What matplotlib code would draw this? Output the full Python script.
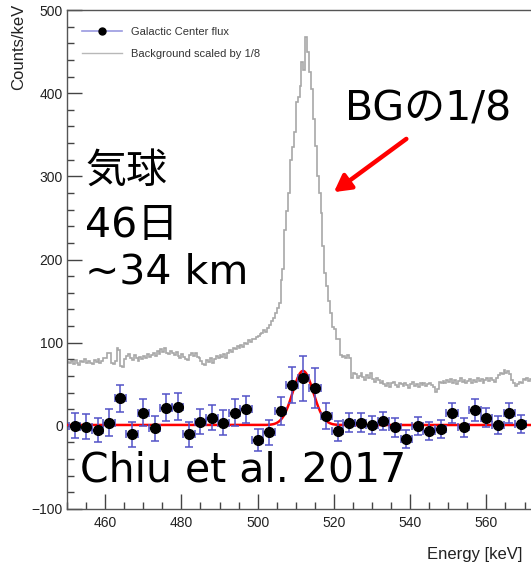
import numpy as np
import matplotlib
matplotlib.use("Agg")
import matplotlib.pyplot as plt
from matplotlib.lines import Line2D
from matplotlib.ticker import MultipleLocator

plt.rcParams["font.family"] = ["Liberation Sans", "DejaVu Sans"]

# Galactic Center flux: 3 keV bins (bin centres, counts/keV, 1-sigma errors)
gc_energy = [452, 455, 458, 461, 464, 467, 470, 473, 476, 479,
             482, 485, 488, 491, 494, 497, 500, 503, 506, 509,
             512, 515, 518, 521, 524, 527, 530, 533, 536, 539,
             542, 545, 548, 551, 554, 557, 560, 563, 566, 569]
gc_flux = [0, -1, -5, 4, 33, -10, 16, -3, 22, 23,
           -10, 5, 10, 4, 16, 20, -17, -8, 18, 49,
           57, 45, 12, -6, 4, 4, 1, 6, -2, -16,
           0, -6, -4, 15, -2, 19, 10, 1, 15, 2]
gc_err = [15, 15, 15, 16, 16, 15, 16, 15, 16, 16,
          15, 15, 15, 15, 16, 16, 13, 15, 17, 22,
          27, 24, 16, 12, 12, 11, 11, 11, 11, 11,
          11, 11, 11, 12, 11, 13, 12, 11, 12, 11]
gc_bin_half = 1.5

# Gaussian + constant fit to the flux
fit_amp = 65.0
fit_mean = 511.9
fit_sigma = 2.7
fit_const = 1.0

# Background spectrum scaled by 1/8: 0.5 keV bins starting at 450 keV
bg_start = 450.0
bg_width = 0.5
bg_counts = [
    77, 75, 78, 74, 79, 76, 73, 78, 77, 80,
    75, 78, 76, 74, 79, 77, 80, 76, 78, 82,
    82, 88, 87, 76, 74, 78, 94, 91, 72, 71,
    80, 84, 86, 81, 79, 85, 82, 78, 83, 80,
    84, 82, 86, 83, 85, 88, 84, 90, 86, 92,
    89, 93, 88, 86, 90, 87, 85, 89, 84, 82,
    86, 83, 80, 79, 85, 88, 84, 87, 83, 81,
    78, 74, 73, 79, 77, 81, 76, 80, 84, 82,
    85, 83, 86, 82, 88, 91, 89, 94, 92, 96,
    93, 97, 95, 100, 98, 103, 101, 105, 104, 107,
    108, 110, 112, 115, 113, 118, 121, 126, 130, 136,
    142, 148, 175, 188, 236, 258, 280, 320, 335, 353,
    389, 395, 409, 438, 428, 467, 450, 425, 405, 369,
    336, 300, 280, 256, 216, 184, 168, 150, 136, 119,
    116, 104, 104, 85, 83, 84, 82, 85, 81, 58,
    64, 62, 57, 60, 63, 59, 55, 61, 58, 63,
    56, 53, 57, 55, 52, 54, 50, 48, 52, 47,
    51, 53, 49, 47, 52, 50, 48, 51, 49, 46,
    50, 53, 48, 50, 47, 52, 49, 51, 48, 50,
    52, 49, 47, 41, 44, 53, 51, 54, 52, 55,
    53, 56, 52, 55, 50, 54, 57, 53, 55, 51,
    54, 56, 52, 55, 53, 57, 54, 56, 52, 55,
    57, 54, 58, 55, 53, 58, 61, 64, 62, 67,
    63, 66, 62, 55, 51, 48, 50, 53, 52, 56,
    55, 57, 54, 56,
]

W, H = 531, 565
fig = plt.figure(figsize=(W / 100, H / 100), dpi=100)
ax = fig.add_axes([67 / W, 56 / H, 1 - 67 / W, 499 / H])

# background histogram
bg_edges = bg_start + bg_width * np.arange(len(bg_counts) + 1)
ax.stairs(bg_counts, bg_edges, baseline=None, color="#a8a8a8", lw=1.2)

# fit curve
xf = np.linspace(450, 572, 800)
yf = fit_const + fit_amp * np.exp(-0.5 * ((xf - fit_mean) / fit_sigma) ** 2)
ax.plot(xf, yf, color="#ff0000", lw=1.8, zorder=3)

# flux points
ax.errorbar(gc_energy, gc_flux, yerr=gc_err, xerr=gc_bin_half, fmt="o",
            ms=7, mfc="black", mec="black", ecolor="#5252c8",
            elinewidth=1.1, capsize=2.8, capthick=1.1, zorder=4)

ax.set_xlim(450, 571.7)
ax.set_ylim(-100, 500)
ax.xaxis.set_major_locator(MultipleLocator(20))
ax.xaxis.set_minor_locator(MultipleLocator(5))
ax.yaxis.set_major_locator(MultipleLocator(100))
ax.yaxis.set_minor_locator(MultipleLocator(20))
ax.tick_params(which="both", direction="in", color="#444444", width=1,
               labelsize=10, labelcolor="#222222")
ax.tick_params(which="major", length=10.8)
ax.tick_params(which="minor", length=5.2)
ax.tick_params(axis="x", which="major", pad=5)
ax.tick_params(axis="y", which="major", pad=3)
for side in ("left", "bottom", "top"):
    ax.spines[side].set_color("#555555")
    ax.spines[side].set_linewidth(1.0)
ax.spines["right"].set_visible(False)

fig.text(19 / W, 1 - 4 / H, "Counts/keV", rotation=90, ha="center",
         va="top", fontsize=12, color="#222222")
fig.text(522 / W, 1 - 555 / H, "Energy [keV]", ha="right", va="center",
         fontsize=12, color="#222222")

handles = [
    Line2D([], [], color="#9a9ae0", lw=1.2, marker="o", ms=5,
           mfc="black", mec="black"),
    Line2D([], [], color="#b8b8b8", lw=1.0),
]
ax.legend(handles, ["Galactic Center flux", "Background scaled by 1/8"],
          loc="upper left", bbox_to_anchor=(82 / W, 1 - 27 / H),
          bbox_transform=fig.transFigure, frameon=False, fontsize=8,
          handlelength=3.6, handletextpad=0.8, labelspacing=1.1,
          borderpad=0, borderaxespad=0, labelcolor="#333333")

big = dict(fontsize=29.5, family=["DejaVu Sans", "Noto Sans CJK JP"],
           color="black", zorder=6)
fig.text(85 / W, 1 - 172 / H, "気球", ha="left", va="center", **big)
fig.text(85 / W, 1 - 226 / H, "46日", ha="left", va="center", **big)
fig.text(85 / W, 1 - 273 / H, "~34 km", ha="left", va="center", **big)
fig.text(345 / W, 1 - 110 / H, "BGの1/8", ha="left", va="center", **big)
fig.text(80 / W, 1 - 470 / H, "Chiu et al. 2017", ha="left", va="center", **big)

ax.annotate("", xy=(520, 281), xytext=(539, 345),
            arrowprops=dict(arrowstyle="-|>,head_length=1.0,head_width=0.55",
                            color="#ff0000", lw=3.2, shrinkA=0, shrinkB=0))

fig.savefig("out.png", dpi=100)
